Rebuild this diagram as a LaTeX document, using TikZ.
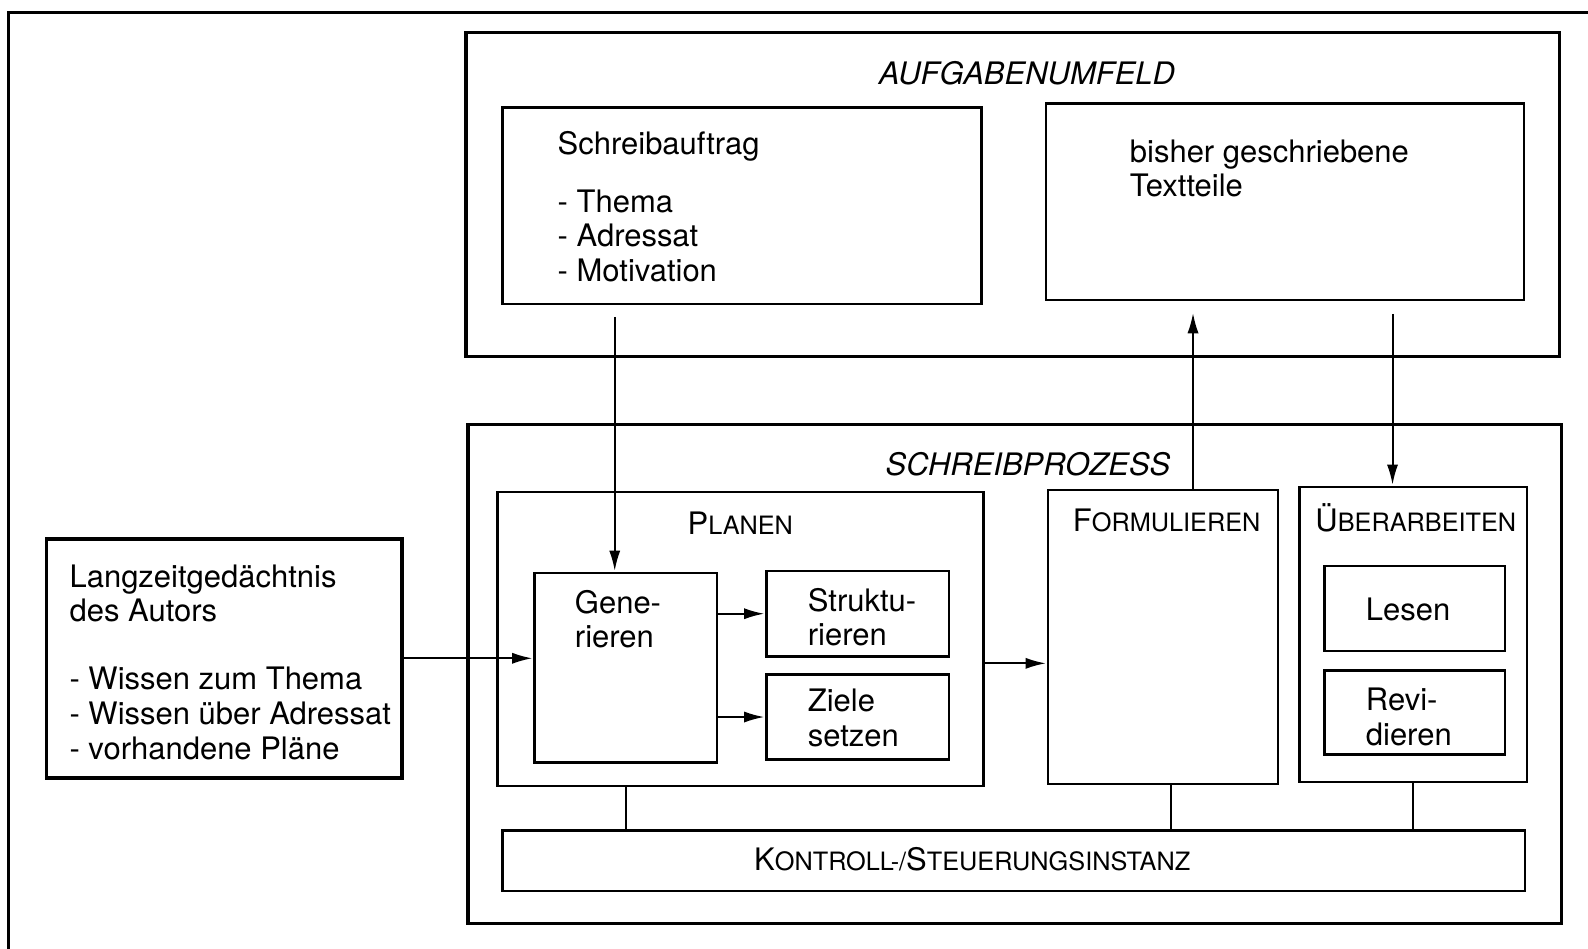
\documentclass[tikz,border=0pt]{standalone}
\usepackage{fontspec}
\setmainfont{TeX Gyre Heros}
\usepackage{tikz}
\usetikzlibrary{arrows.meta,fit,positioning}

\tikzset{
  frame/.style={draw, line width=1pt, inner sep=0pt},
  box/.style={draw, line width=0.7pt, inner sep=0pt},
  txt/.style={inner sep=0pt, anchor=north west, align=left, font=\fontsize{8.7}{9.7}\selectfont},
  head/.style={inner sep=0pt, anchor=base, font=\fontsize{8.7}{9.7}\selectfont\itshape},
  sc/.style={inner sep=0pt, anchor=base, font=\fontsize{8.7}{9.7}\selectfont},
  arr/.style={line width=0.55pt, -{Latex[length=2mm,width=1.1mm]}, shorten >=0.3pt},
  link/.style={line width=0.55pt},
}
\newcommand{\kap}[2]{#1{\fontsize{7.1}{8}\selectfont #2}}

\begin{document}
\begin{tikzpicture}[x=0.01cm, y=-0.01cm]
\useasboundingbox (0,0) rectangle (1568,937);

% outer frame, cut off at the right and below
\draw[line width=0.8pt] (1600,12) -- (8,12) -- (8,960);

% Aufgabenumfeld
\node[frame, fit={(460,32) (1540,352)}] (umfeld) {};
\node[head] (umfeldtxt) at (1014,83) {AUFGABENUMFELD};
\node[box, fit={(496,106) (969,300)}] (auftrag) {};
\node[txt] (auftragtxt) at (550,129) {Schreibauftrag\\[0.23cm]- Thema\\- Adressat\\- Motivation};
\node[box, fit={(1033,102) (1505,296)}] (bisher) {};
\node[txt] (bishertxt) at (1115,137) {bisher geschriebene\\Textteile};

% Langzeitgedaechtnis
\node[frame, fit={(46,532) (397,768)}] (lzg) {};
\node[txt] (lzgtxt) at (68,557) {Langzeitgedächtnis\\des Autors\\[0.33cm]- Wissen zum Thema\\- Wissen über Adressat\\- vorhandene Pläne};

% Schreibprozess
\node[frame, fit={(462,419) (1542,912)}] (prozess) {};
\node[head] (prozesstxt) at (1015,470) {SCHREIBPROZESS};

\node[box, fit={(491,486) (971,776)}] (plan) {};
\node[sc] (plantxt) at (731,528) {\kap{P}{LANEN}};
\node[box, fit={(528,566) (708,753)}] (gen) {};
\node[txt] (gentxt) at (567,582) {Gene-\\rieren};
\node[box, fit={(757,564) (937,648)}] (strukt) {};
\node[txt] (strukttxt) at (797,580) {Struktu-\\rieren};
\node[box, fit={(757,666) (937,750)}] (ziele) {};
\node[txt] (zieletxt) at (797,680) {Ziele\\setzen};

\node[box, fit={(1035,484) (1262,774)}] (form) {};
\node[sc] (formtxt) at (1152,525) {\kap{F}{ORMULIEREN}};

\node[box, fit={(1283,481) (1508,772)}] (ueber) {};
\node[sc] (uebertxt) at (1398,525) {\kap{Ü}{BERARBEITEN}};
\node[box, fit={(1308,559) (1486,643)}] (lesen) {};
\node[txt] (lesentxt) at (1348,590) {Lesen};
\node[box, fit={(1308,662) (1486,745)}] (revi) {};
\node[txt] (revitxt) at (1348,679) {Revi-\\dieren};

\node[box, fit={(496,820) (1506,880)}] (ktrl) {};
\node[sc] (ktrltxt) at (960,860) {\kap{K}{ONTROLL-/}\kap{S}{TEUERUNGSINSTANZ}};

% Pfeile
\coordinate (a0) at (607,313);
\draw[arr] (a0) -- (a0 |- gen.north);
\coordinate (a1) at (1178,308);
\draw[arr] (a1 |- form.north) -- (a1);
\coordinate (a2) at (1375,310);
\draw[arr] (a2) -- (a2 |- ueber.north);
\draw[arr] (lzg.east) -- (lzg.east -| gen.west);
\draw[arr] (gen.east |- strukt.west) -- (strukt.west);
\draw[arr] (gen.east |- ziele.west) -- (ziele.west);
\coordinate (a3) at (1000,655);
\draw[arr] (plan.east |- a3) -- (form.west |- a3);

% Verbindungen zur Kontrollinstanz
\draw[link] (gen.north |- plan.south) -- (gen.north |- ktrl.north);
\coordinate (l1) at (1156,800);
\draw[link] (l1 |- form.south) -- (l1 |- ktrl.north);
\draw[link] (ueber.south) -- (ueber.south |- ktrl.north);
\end{tikzpicture}
\end{document}
